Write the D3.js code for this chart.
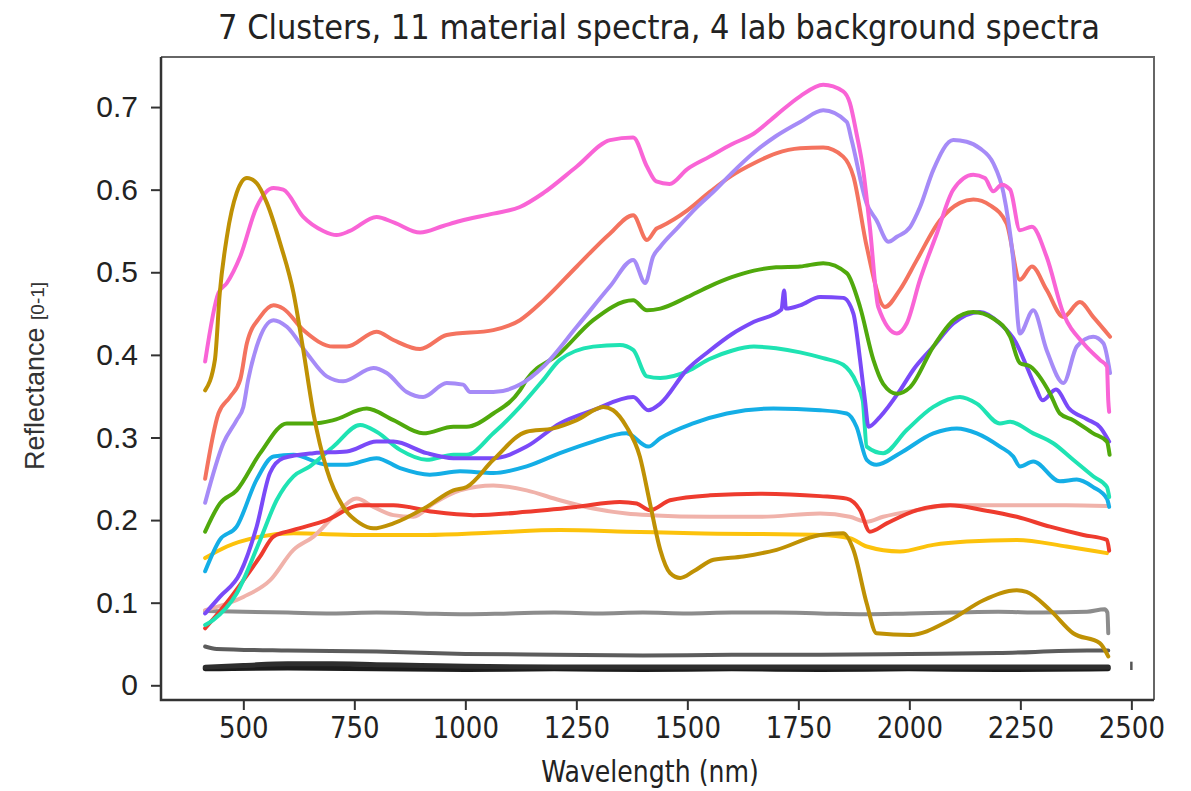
<!DOCTYPE html>
<html>
<head>
<meta charset="utf-8">
<script src="https://cdn.jsdelivr.net/npm/d3@7/dist/d3.min.js"></script>
<style>
  body { margin: 0; background: #fff; }
  svg { display: block; }
  .ytick text { font-family: "Liberation Sans", Arial, sans-serif; font-size: 30px; fill: #222; }
  .xtick text { font-family: "DejaVu Sans", sans-serif; font-size: 31px; fill: #222; }
  .tick line { stroke: #333; stroke-width: 2; }
</style>
</head>
<body>
<svg width="1191" height="791"></svg>
<script>
// ticks
var xTicks = [500, 750, 1000, 1250, 1500, 1750, 2000, 2250, 2500];
var yTicks = [0, 0.1, 0.2, 0.3, 0.4, 0.5, 0.6, 0.7];
var yTickLabels = ["0", "0.1", "0.2", "0.3", "0.4", "0.5", "0.6", "0.7"];

// material spectra, [wavelength nm, reflectance]
var magenta = [[414,0.392],[444,0.475],[463,0.487],[493,0.519],[530,0.579],[568,0.602],[590,0.600],[635,0.567],[680,0.55],[710,0.545],[740,0.55],[800,0.567],[840,0.56],[898,0.548],[950,0.556],[988,0.562],[1063,0.571],[1123,0.579],[1176,0.596],[1251,0.628],[1326,0.660],[1378,0.663],[1409,0.628],[1430,0.61],[1460,0.607],[1500,0.625],[1550,0.64],[1600,0.655],[1650,0.668],[1700,0.69],[1754,0.713],[1806,0.727],[1851,0.719],[1866,0.705],[1881,0.668],[1896,0.624],[1911,0.555],[1930,0.458],[1972,0.426],[1994,0.438],[2024,0.491],[2062,0.547],[2099,0.600],[2144,0.618],[2170,0.614],[2189,0.598],[2208,0.606],[2227,0.600],[2249,0.551],[2276,0.555],[2309,0.519],[2347,0.450],[2392,0.414],[2429,0.394],[2445,0.386],[2448,0.345],[2450,0.331]];
var lavender = [[414,0.221],[455,0.293],[485,0.321],[500,0.337],[511,0.37],[530,0.41],[568,0.442],[598,0.434],[643,0.402],[688,0.374],[725,0.368],[793,0.384],[823,0.378],[868,0.355],[905,0.349],[958,0.366],[995,0.364],[1011,0.355],[1063,0.355],[1123,0.364],[1176,0.386],[1251,0.434],[1326,0.483],[1378,0.515],[1405,0.487],[1423,0.519],[1439,0.531],[1480,0.555],[1520,0.578],[1560,0.598],[1600,0.62],[1650,0.645],[1700,0.665],[1754,0.682],[1806,0.696],[1859,0.682],[1870,0.66],[1904,0.583],[1926,0.563],[1953,0.537],[1972,0.543],[2002,0.555],[2024,0.579],[2054,0.624],[2099,0.66],[2129,0.658],[2159,0.65],[2189,0.632],[2212,0.596],[2234,0.515],[2249,0.426],[2279,0.454],[2309,0.406],[2347,0.366],[2377,0.41],[2414,0.422],[2437,0.414],[2452,0.378]];
var salmon = [[414,0.25],[444,0.329],[470,0.349],[493,0.37],[508,0.414],[538,0.446],[568,0.46],[590,0.456],[635,0.43],[703,0.41],[733,0.41],[800,0.428],[838,0.418],[898,0.407],[958,0.424],[1063,0.43],[1123,0.442],[1176,0.466],[1251,0.507],[1326,0.547],[1378,0.569],[1409,0.539],[1431,0.553],[1439,0.555],[1500,0.575],[1550,0.597],[1600,0.617],[1650,0.632],[1700,0.644],[1754,0.65],[1806,0.651],[1851,0.64],[1874,0.616],[1904,0.531],[1945,0.458],[1979,0.479],[2017,0.515],[2069,0.563],[2114,0.584],[2144,0.588],[2182,0.581],[2219,0.559],[2249,0.491],[2276,0.507],[2309,0.479],[2347,0.446],[2384,0.464],[2414,0.446],[2452,0.422]];
var green = [[414,0.186],[447,0.22],[485,0.236],[538,0.281],[598,0.317],[658,0.317],[703,0.321],[778,0.335],[838,0.321],[905,0.305],[973,0.313],[1003,0.313],[1063,0.329],[1123,0.357],[1138,0.37],[1213,0.402],[1288,0.442],[1378,0.466],[1409,0.454],[1439,0.456],[1500,0.47],[1550,0.483],[1600,0.494],[1650,0.502],[1700,0.506],[1754,0.507],[1806,0.511],[1859,0.499],[1889,0.458],[1919,0.394],[1941,0.365],[1972,0.353],[2002,0.361],[2054,0.41],[2099,0.442],[2144,0.452],[2189,0.444],[2227,0.422],[2249,0.39],[2272,0.386],[2317,0.353],[2339,0.329],[2369,0.321],[2414,0.305],[2445,0.295],[2451,0.279]];
var violet = [[414,0.087],[447,0.107],[493,0.136],[530,0.192],[560,0.257],[590,0.275],[658,0.281],[733,0.283],[800,0.295],[838,0.295],[913,0.281],[973,0.275],[1063,0.275],[1138,0.289],[1213,0.317],[1288,0.333],[1378,0.349],[1412,0.333],[1439,0.341],[1499,0.382],[1550,0.405],[1600,0.425],[1650,0.44],[1712,0.455],[1718,0.478],[1722,0.456],[1754,0.46],[1799,0.47],[1851,0.469],[1874,0.45],[1889,0.394],[1900,0.345],[1908,0.313],[1934,0.325],[1979,0.357],[2009,0.382],[2054,0.41],[2099,0.438],[2159,0.452],[2204,0.438],[2240,0.415],[2265,0.385],[2285,0.36],[2300,0.345],[2330,0.358],[2360,0.335],[2400,0.322],[2430,0.312],[2450,0.295]];
var turquoise = [[414,0.073],[432,0.079],[485,0.111],[538,0.176],[575,0.224],[613,0.253],[650,0.265],[703,0.289],[763,0.315],[800,0.307],[853,0.285],[913,0.273],[973,0.279],[1003,0.279],[1063,0.305],[1123,0.337],[1176,0.37],[1213,0.394],[1288,0.41],[1348,0.412],[1378,0.406],[1409,0.374],[1439,0.372],[1500,0.38],[1550,0.395],[1600,0.405],[1650,0.41],[1700,0.408],[1754,0.403],[1806,0.396],[1851,0.388],[1881,0.366],[1895,0.345],[1904,0.289],[1941,0.281],[1994,0.309],[2054,0.337],[2114,0.349],[2152,0.341],[2204,0.317],[2227,0.319],[2279,0.305],[2324,0.293],[2369,0.273],[2414,0.253],[2445,0.24],[2450,0.228]];
var skyblue = [[414,0.138],[447,0.176],[485,0.192],[530,0.249],[568,0.277],[613,0.279],[688,0.267],[733,0.267],[800,0.275],[853,0.263],[920,0.255],[988,0.259],[1063,0.257],[1138,0.265],[1213,0.281],[1288,0.295],[1363,0.305],[1412,0.289],[1439,0.299],[1513,0.317],[1589,0.329],[1694,0.335],[1799,0.333],[1859,0.329],[1881,0.313],[1904,0.273],[1926,0.267],[1979,0.281],[2054,0.305],[2107,0.311],[2152,0.305],[2204,0.289],[2234,0.277],[2249,0.265],[2279,0.271],[2339,0.247],[2377,0.249],[2414,0.24],[2445,0.226],[2450,0.216]];
var red = [[414,0.069],[440,0.085],[470,0.105],[500,0.127],[538,0.156],[568,0.18],[613,0.188],[688,0.2],[763,0.218],[838,0.218],[928,0.21],[1018,0.206],[1138,0.21],[1251,0.216],[1348,0.222],[1386,0.22],[1416,0.212],[1461,0.224],[1551,0.23],[1664,0.232],[1799,0.229],[1859,0.226],[1889,0.212],[1911,0.186],[1949,0.196],[2017,0.212],[2092,0.218],[2167,0.212],[2242,0.204],[2317,0.192],[2392,0.182],[2445,0.176],[2450,0.163]];
var lightpink = [[414,0.091],[500,0.107],[560,0.127],[613,0.164],[658,0.18],[710,0.208],[755,0.226],[793,0.216],[838,0.206],[883,0.204],[928,0.22],[988,0.236],[1063,0.242],[1138,0.236],[1213,0.224],[1288,0.214],[1363,0.208],[1416,0.206],[1551,0.204],[1664,0.204],[1799,0.208],[1866,0.204],[1904,0.198],[1941,0.204],[2017,0.212],[2092,0.218],[2204,0.218],[2354,0.218],[2445,0.217]];
var gold = [[414,0.154],[463,0.168],[538,0.18],[613,0.184],[763,0.182],[913,0.182],[1063,0.185],[1213,0.188],[1363,0.186],[1513,0.184],[1799,0.182],[1866,0.178],[1904,0.168],[1979,0.162],[2054,0.17],[2129,0.174],[2242,0.176],[2354,0.168],[2445,0.16]];
var olive = [[414,0.357],[436,0.394],[447,0.475],[463,0.543],[485,0.596],[508,0.614],[530,0.608],[553,0.584],[583,0.535],[613,0.475],[635,0.406],[658,0.329],[688,0.261],[725,0.216],[763,0.196],[793,0.19],[838,0.196],[913,0.216],[973,0.236],[1003,0.24],[1063,0.273],[1138,0.307],[1198,0.311],[1251,0.321],[1311,0.337],[1333,0.333],[1363,0.313],[1393,0.277],[1416,0.22],[1439,0.164],[1461,0.136],[1484,0.13],[1514,0.138],[1559,0.152],[1626,0.156],[1701,0.164],[1799,0.182],[1851,0.184],[1874,0.164],[1904,0.099],[1926,0.063],[2002,0.061],[2092,0.079],[2167,0.103],[2242,0.115],[2264,0.113],[2317,0.091],[2369,0.063],[2429,0.051],[2448,0.035]];

// lab background spectra
var bgGray = [[414,0.09],[500,0.089],[600,0.088],[700,0.087],[800,0.088],[900,0.087],[1000,0.086],[1100,0.087],[1200,0.088],[1300,0.087],[1400,0.088],[1500,0.087],[1600,0.088],[1700,0.088],[1800,0.087],[1900,0.086],[2000,0.087],[2100,0.088],[2200,0.089],[2300,0.088],[2400,0.089],[2440,0.092],[2446,0.088],[2448,0.063]];
var bgDark = [[414,0.047],[440,0.044],[600,0.042],[800,0.041],[1000,0.038],[1200,0.037],[1400,0.036],[1600,0.037],[1800,0.037],[2000,0.038],[2200,0.039],[2400,0.042],[2448,0.042]];
var bgBlack1 = [[414,0.022],[500,0.024],[600,0.026],[700,0.026],[800,0.025],[900,0.024],[1000,0.023],[1200,0.022],[1400,0.022],[1600,0.022],[1800,0.022],[2000,0.022],[2200,0.022],[2448,0.022]];
var bgBlack2 = [[414,0.02],[600,0.021],[800,0.02],[1000,0.019],[1200,0.02],[1400,0.019],[1600,0.02],[1800,0.019],[2000,0.02],[2200,0.019],[2448,0.02]];
var stray = [[2500,0.0185],[2500,0.0286]];

var series = [
  {data: bgBlack2, color: "#1c1c1c", w: 5},
  {data: bgBlack1, color: "#2e2e2e", w: 5},
  {data: bgDark, color: "#5c5c5c", w: 4},
  {data: bgGray, color: "#8c8c8c", w: 4},
  {data: gold, color: "#fcc20c", w: 4},
  {data: lightpink, color: "#f0b2aa", w: 4},
  {data: red, color: "#ee3b2e", w: 4},
  {data: skyblue, color: "#14aee6", w: 4},
  {data: turquoise, color: "#1fe3b3", w: 4},
  {data: violet, color: "#7a4af8", w: 4},
  {data: green, color: "#50a90c", w: 4},
  {data: salmon, color: "#f4735f", w: 4},
  {data: lavender, color: "#a68bf7", w: 4},
  {data: magenta, color: "#f964d6", w: 4},
  {data: olive, color: "#bf9104", w: 4}
];

var svg = d3.select("svg");
var frame = {left: 161, right: 1154, top: 57, bottom: 700};

var x = d3.scaleLinear().domain([314.6, 2551]).range([frame.left, frame.right]);
var y = d3.scaleLinear().domain([-0.0178, 0.7606]).range([frame.bottom, frame.top]);

// title, narrow and tall like the source
svg.append("text")
    .attr("x", 659).attr("y", 39)
    .attr("text-anchor", "middle")
    .attr("textLength", 882).attr("lengthAdjust", "spacingAndGlyphs")
    .style("font-family", "'DejaVu Sans', sans-serif")
    .style("font-size", "33px").style("fill", "#222")
    .text("7 Clusters, 11 material spectra, 4 lab background spectra");

var line = d3.line()
    .x(function(d) { return x(d[0]); })
    .y(function(d) { return y(d[1]); })
    .curve(d3.curveMonotoneX);

svg.append("g").selectAll("path")
    .data(series)
  .enter().append("path")
    .attr("fill", "none")
    .attr("stroke", function(d) { return d.color; })
    .attr("stroke-width", function(d) { return d.w; })
    .attr("stroke-linejoin", "round")
    .attr("stroke-linecap", "round")
    .attr("d", function(d) { return line(d.data); });

svg.append("path")
    .attr("fill", "none").attr("stroke", "#555").attr("stroke-width", 2.5)
    .attr("d", d3.line().x(function(d) { return x(d[0]); }).y(function(d) { return y(d[1]); })(stray));

// frame
svg.append("path")
    .attr("fill", "none").attr("stroke", "#666").attr("stroke-width", 2)
    .attr("d", "M" + frame.left + "," + frame.top + "H" + frame.right + "V" + frame.bottom);
svg.append("path")
    .attr("fill", "none").attr("stroke", "#333").attr("stroke-width", 2.5)
    .attr("d", "M" + frame.left + "," + frame.top + "V" + frame.bottom + "H" + frame.right);

// axes
var gx = svg.append("g")
    .attr("class", "xtick")
    .attr("transform", "translate(0," + frame.bottom + ")")
    .call(d3.axisBottom(x).tickValues(xTicks).tickSize(10).tickSizeOuter(0).tickPadding(6).tickFormat(d3.format("d")));
gx.select(".domain").remove();
gx.selectAll(".tick text").attr("dy", "0.71em").attr("transform", "scale(0.84,1)");

var gy = svg.append("g")
    .attr("class", "ytick")
    .attr("transform", "translate(" + frame.left + ",0)")
    .call(d3.axisLeft(y).tickValues(yTicks).tickSize(10).tickSizeOuter(0).tickPadding(13)
      .tickFormat(function(d, i) { return yTickLabels[i]; }));
gy.select(".domain").remove();

// axis labels
svg.append("g")
    .attr("transform", "translate(650,782)")
  .append("text")
    .attr("text-anchor", "middle")
    .attr("transform", "scale(0.84,1)")
    .style("font-family", "'DejaVu Sans', sans-serif")
    .style("font-size", "30px").style("fill", "#222")
    .text("Wavelength (nm)");

var yl = svg.append("text")
    .attr("transform", "translate(44,376) rotate(-90)")
    .attr("text-anchor", "middle")
    .style("font-family", "'Liberation Sans', Arial, sans-serif")
    .style("font-size", "27px").style("fill", "#333");
yl.append("tspan").text("Reflectance ");
yl.append("tspan").style("font-size", "19px").text("[0-1]");
</script>
</body>
</html>
